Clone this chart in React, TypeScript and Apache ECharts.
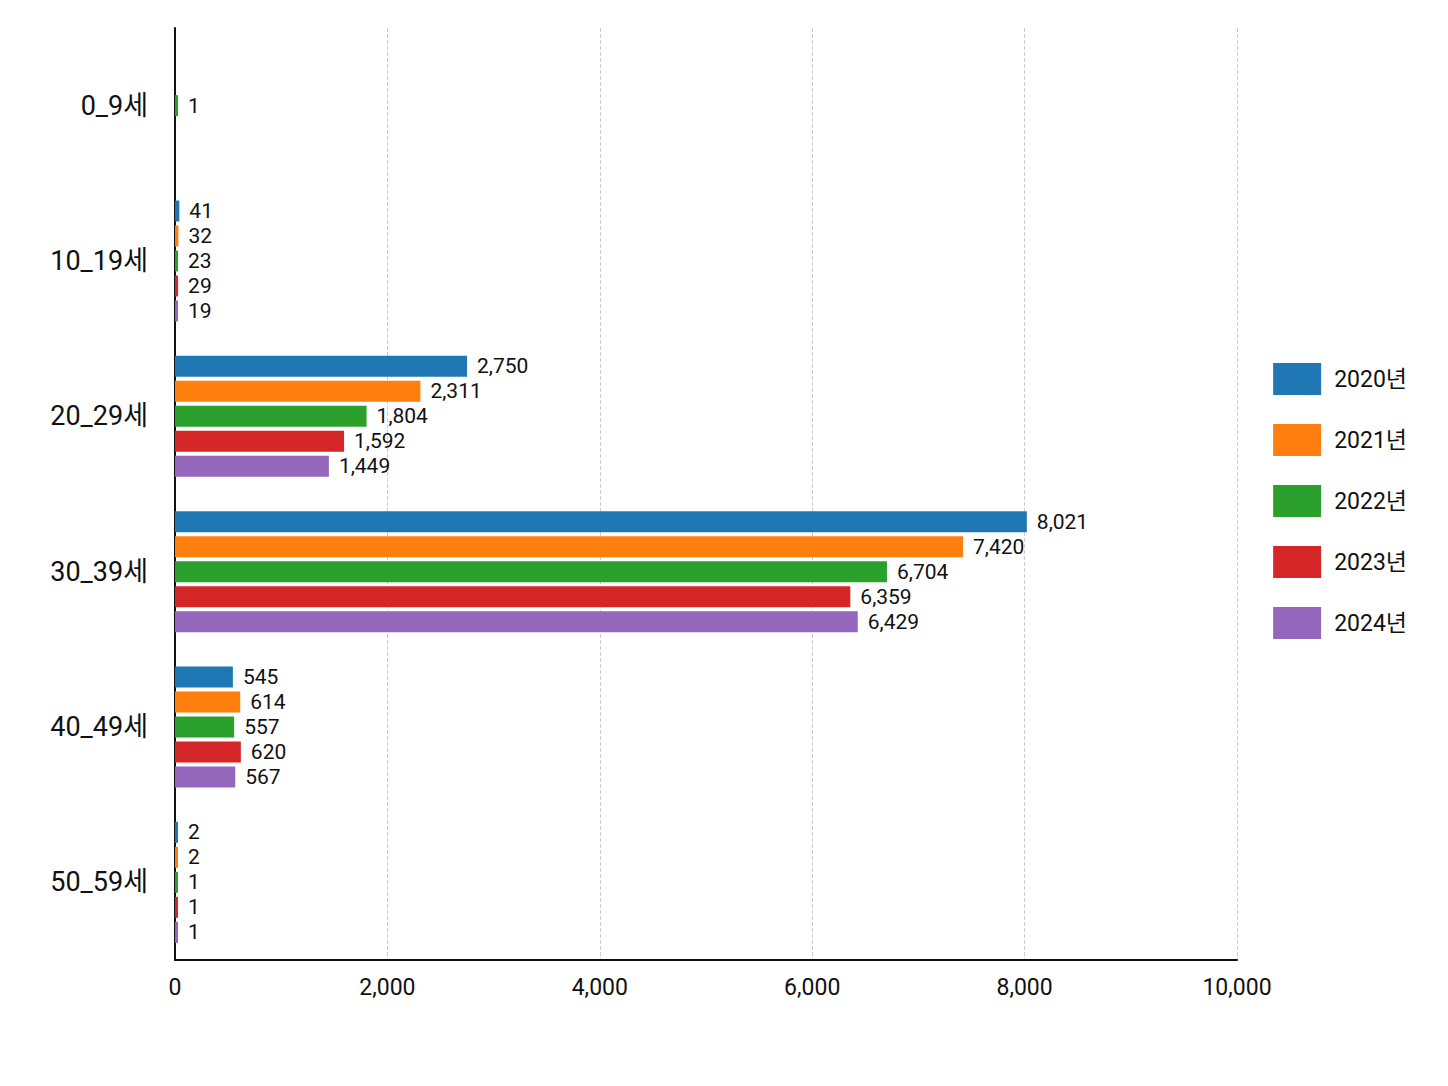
import React, { useEffect, useRef } from "react";
import * as echarts from "echarts";

const categories = ["0_9세", "10_19세", "20_29세", "30_39세", "40_49세", "50_59세"];
const seriesNames = ["2020년", "2021년", "2022년", "2023년", "2024년"];
const colors = ["#1f77b4", "#ff7f0e", "#2ca02c", "#d62728", "#9467bd"];
const v2020 = [null, 41, 2750, 8021, 545, 2];
const v2021 = [null, 32, 2311, 7420, 614, 2];
const v2022 = [1, 23, 1804, 6704, 557, 1];
const v2023 = [null, 29, 1592, 6359, 620, 1];
const v2024 = [null, 19, 1449, 6429, 567, 1];
const values = [v2020, v2021, v2022, v2023, v2024];
const xTicks = { min: 0, max: 10000, interval: 2000 };

export default function App() {
  const ref = useRef<HTMLDivElement>(null);
  useEffect(() => {
    const chart = echarts.init(ref.current!, null, { renderer: "svg" });
    const font = "Roboto, 'Noto Sans CJK KR', sans-serif";
    chart.setOption({
      animation: false,
      textStyle: { fontFamily: font },
      legend: {
        orient: "vertical",
        right: 28,
        top: 350,
        itemWidth: 48,
        itemHeight: 32,
        itemGap: 29,
        icon: "rect",
        textStyle: { fontSize: 23, color: "#111", padding: [0, 0, 0, 8] },
        data: seriesNames,
      },
      grid: { left: 167, right: 203, top: 20, bottom: 118 },
      xAxis: {
        type: "value",
        ...xTicks,
        axisLine: { show: true, lineStyle: { color: "#111", width: 2 } },
        axisTick: { show: false },
        axisLabel: {
          fontSize: 23, color: "#111", margin: 16,
          formatter: (v: number) => v.toLocaleString("en-US"),
        },
        splitLine: { show: true, lineStyle: { type: "dashed", color: "#ccc" } },
      },
      yAxis: {
        type: "category",
        data: categories,
        inverse: true,
        axisLine: { show: true, lineStyle: { color: "#111", width: 2 } },
        axisTick: { show: false },
        axisLabel: { fontSize: 27, color: "#111", margin: 27 },
      },
      series: seriesNames.map((name, i) => ({
        name,
        type: "bar",
        data: values[i],
        barWidth: 21,
        barGap: "19%",
        barCategoryGap: "18%",
        barMinHeight: 3,
        itemStyle: { color: colors[i] },
        label: {
          show: true,
          position: "right",
          distance: 10,
          fontSize: 21,
          color: "#111",
          formatter: (p: any) => (p.value == null ? "" : Number(p.value).toLocaleString("en-US")),
        },
      })),
    });
    return () => chart.dispose();
  }, []);
  return <div ref={ref} style={{ width: 1432, height: 1070, background: "#fff" }} />;
}
